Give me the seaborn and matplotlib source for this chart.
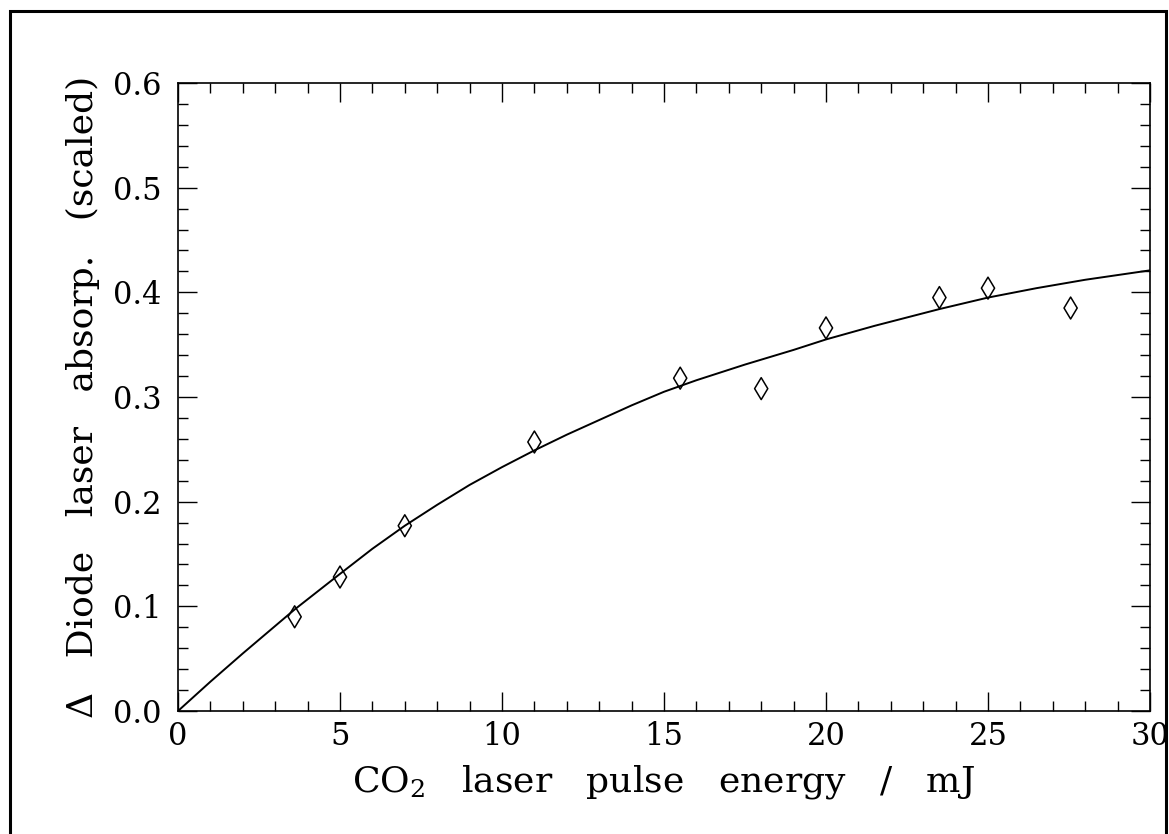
import matplotlib
matplotlib.use("Agg")
import matplotlib.pyplot as plt
import seaborn as sns
import pandas as pd
from matplotlib.patches import Rectangle
from matplotlib.ticker import MultipleLocator, FormatStrFormatter

# measured points
energy_mj = [3.6, 5.0, 7.0, 11.0, 15.5, 18.0, 20.0, 23.5, 25.0, 27.55]
absorp = [0.090, 0.128, 0.177, 0.257, 0.318, 0.308, 0.366, 0.395, 0.404, 0.385]

# fitted curve
fit_x = [0, 1, 2, 3.6, 5, 6, 7, 8, 9, 10, 11, 12, 13, 14, 15, 16, 17.5, 19, 20,
         21.5, 23.5, 25, 26.5, 28, 30]
fit_y = [0, 0.028, 0.055, 0.097, 0.131, 0.155, 0.177, 0.197, 0.216, 0.233, 0.249,
         0.264, 0.278, 0.292, 0.305, 0.316, 0.331, 0.345, 0.355, 0.368, 0.384,
         0.395, 0.404, 0.412, 0.421]

x_ticks = [0, 5, 10, 15, 20, 25, 30]
y_ticks = [0.0, 0.1, 0.2, 0.3, 0.4, 0.5, 0.6]

sns.set_style("ticks")
plt.rcParams["font.family"] = ["DejaVu Serif"]
plt.rcParams["mathtext.fontset"] = "dejavuserif"

fig = plt.figure(figsize=(11.69, 8.34), dpi=100)
ax = fig.add_axes([178 / 1169, 1 - 711 / 834, (1150 - 178) / 1169, (711 - 83) / 834])

df_fit = pd.DataFrame({"x": fit_x, "y": fit_y})
df_pts = pd.DataFrame({"x": energy_mj, "y": absorp})

sns.lineplot(data=df_fit, x="x", y="y", ax=ax, color="black", linewidth=1.4,
             estimator=None, sort=False)
sns.scatterplot(data=df_pts, x="x", y="y", ax=ax, marker="d", s=125,
                facecolor="none", edgecolor="black", linewidth=1.1, zorder=3)

ax.set_xlim(0, 30)
ax.set_ylim(0, 0.6)
ax.set_xticks(x_ticks)
ax.set_yticks(y_ticks)
ax.xaxis.set_minor_locator(MultipleLocator(1))
ax.yaxis.set_minor_locator(MultipleLocator(0.02))
ax.yaxis.set_major_formatter(FormatStrFormatter("%.1f"))

ax.tick_params(which="both", direction="in", top=True, right=True, width=1.0,
               color="black", labelsize=22, labelcolor="black")
ax.tick_params(which="major", length=13.5)
ax.tick_params(which="minor", length=7)
ax.tick_params(axis="y", pad=12)
ax.tick_params(axis="x", pad=7)
for sp in ax.spines.values():
    sp.set_linewidth(1.2)
    sp.set_color("black")

ax.set_xlabel(r"CO$_2$   laser   pulse   energy   /   mJ", fontsize=26, color="black")
ax.set_ylabel("Δ   Diode   laser   absorp.   (scaled)", fontsize=26, color="black")
ax.xaxis.set_label_coords(0.5, -(763 - 711) / 628)
ax.yaxis.set_label_coords((100 - 178) / 972, 0.5)

fig.add_artist(Rectangle((10 / 1169, -0.05), (1166 - 10) / 1169, (834 - 11) / 834 + 0.05,
                         transform=fig.transFigure, fill=False, lw=2.2,
                         edgecolor="black", clip_on=False))

fig.savefig("out.png", dpi=100, facecolor="white")
